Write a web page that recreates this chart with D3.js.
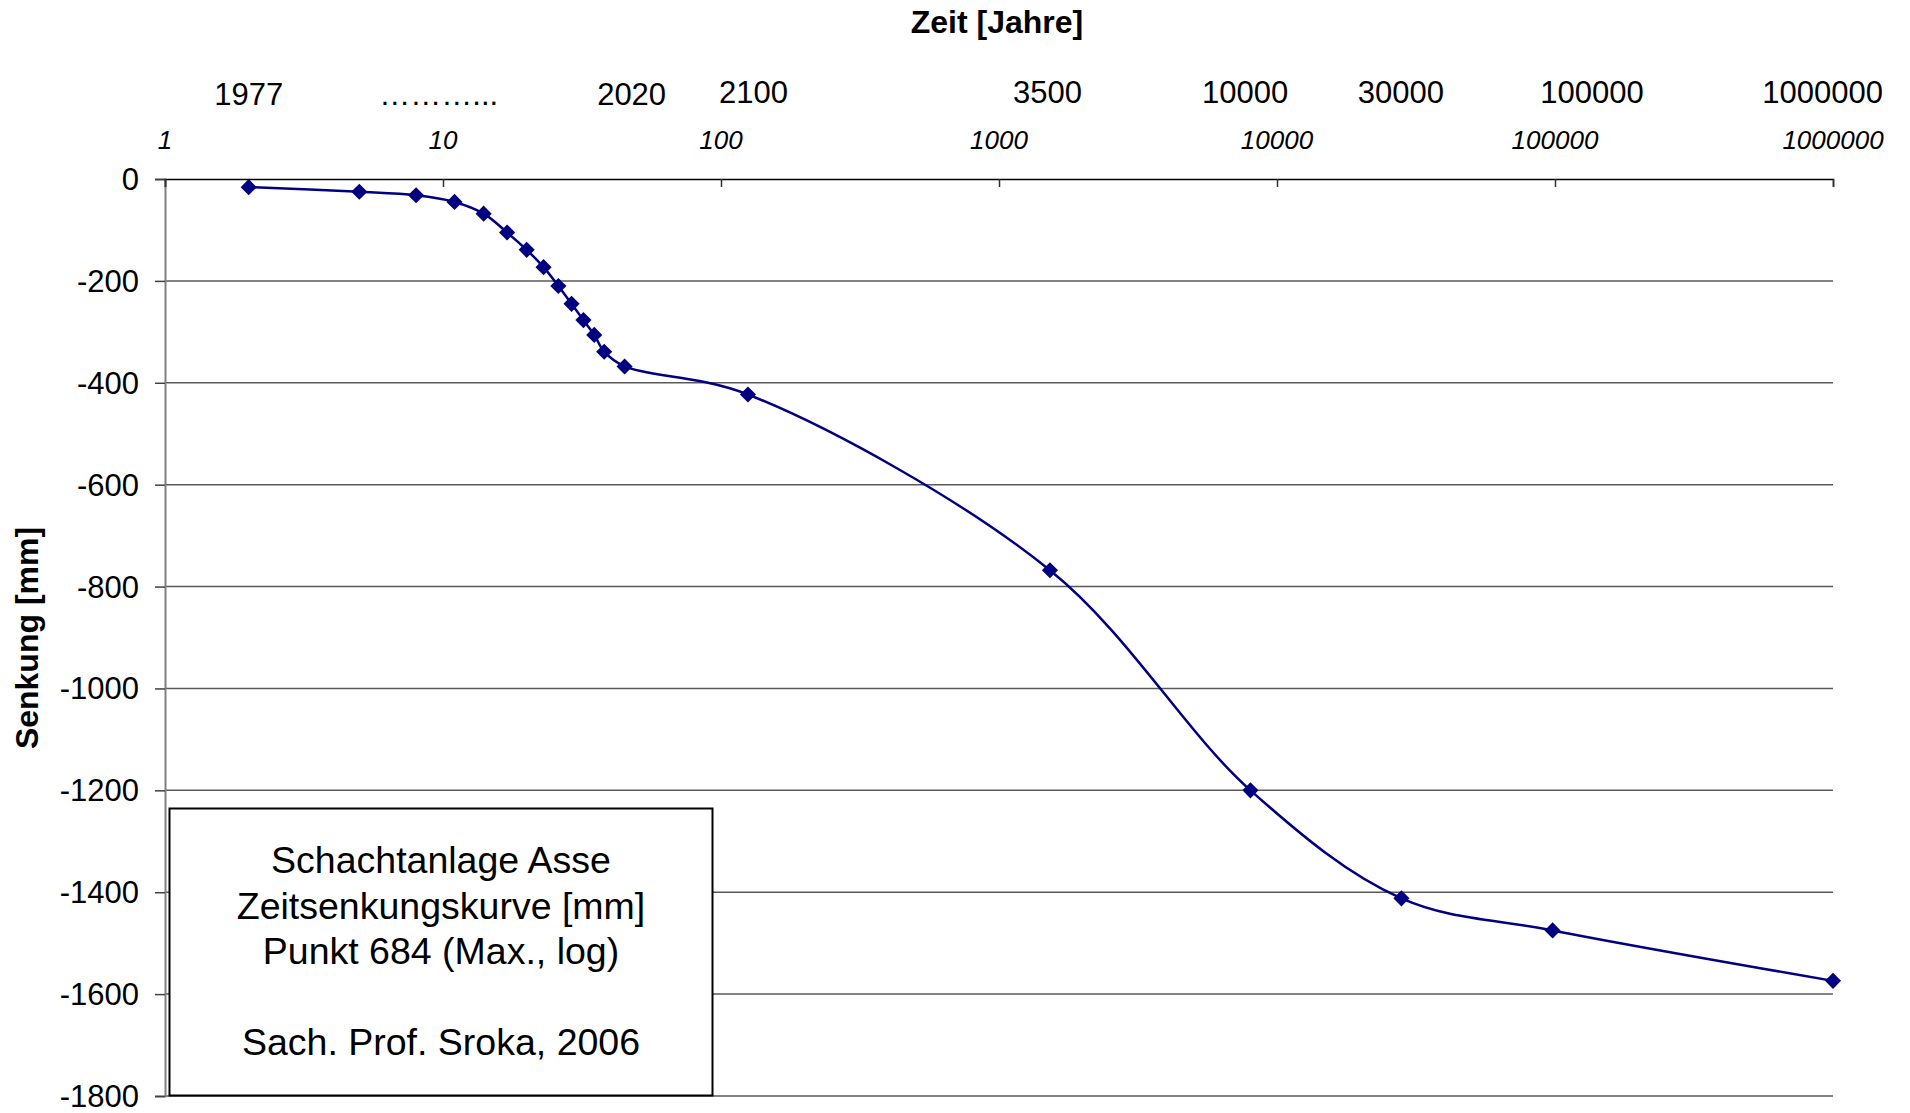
<!DOCTYPE html>
<html>
<head>
<meta charset="utf-8">
<script src="https://cdn.jsdelivr.net/npm/d3@7"></script>
<style>
    body { margin: 0; background: #fff; }
    svg { display: block; font-family: "Liberation Sans", Arial, sans-serif; }
</style>
</head>
<body>
<div id="chart"></div>
<script>
// Zeit seit Messbeginn (Jahre, log) und Senkung (mm)
const zeit = [2, 5, 8, 11, 14, 17, 20, 23, 26, 29, 32, 35, 38, 45, 125, 1525, 8025, 28025, 98025, 1000000];
const senkung = [-16, -25, -32, -45, -68, -105, -139, -173, -210, -245, -277, -306, -339, -368, -423, -768, -1200, -1412, -1475, -1574];

// Jahreszahlen oben (Text + Lage auf der Zeitachse)
const jahrLabels = ['1977', '………...', '2020', '2100', '3500', '10000', '30000', '100000', '1000000'];
const jahrLage = [2, 9.65, 47.7, 131, 1494, 7674, 27900, 135900, 918000];

const xTicks = [1, 10, 100, 1000, 10000, 100000, 1000000];
const yTicks = [0, -200, -400, -600, -800, -1000, -1200, -1400, -1600, -1800];

const infoText = ['Schachtanlage Asse', 'Zeitsenkungskurve [mm]', 'Punkt 684 (Max., log)', '', 'Sach. Prof. Sroka, 2006'];

const W = 1910, H = 1113;
const plotLeft = 165, plotRight = 1833, plotTop = 179, plotBottom = 1096;

const svg = d3.select('#chart').append('svg')
    .attr('width', W)
    .attr('height', H);

const x = d3.scaleLog().domain([1, 1000000]).range([plotLeft, plotRight]);
const y = d3.scaleLinear().domain([0, -1800]).range([plotTop, plotBottom]);

// Gitterlinien
svg.append('g')
    .selectAll('line')
    .data(yTicks.filter(d => d !== 0))
    .enter()
    .append('line')
    .attr('x1', plotLeft)
    .attr('x2', plotRight)
    .attr('y1', d => y(d))
    .attr('y2', d => y(d))
    .attr('stroke', '#5a5a5a')
    .attr('stroke-width', 1.5);

// Y-Achse
const yAxis = svg.append('g')
    .attr('transform', `translate(${plotLeft},0)`)
    .call(d3.axisLeft(y).tickValues(yTicks).tickSize(10).tickPadding(16).tickFormat(d3.format('d')));
yAxis.select('.domain').attr('stroke', '#808080').attr('stroke-width', 2);
yAxis.selectAll('.tick line').attr('stroke', '#404040').attr('stroke-width', 1.5);
yAxis.selectAll('.tick text')
    .attr('font-size', '31px')
    .attr('font-family', '"Liberation Sans", Arial, sans-serif')
    .attr('fill', '#000')
    .attr('dy', '0.34em')
    .text(d => d === 0 ? '0' : '-' + Math.abs(d));

// X-Achse oben (Linie bei 0)
const xAxis = svg.append('g')
    .attr('transform', `translate(0,${plotTop})`)
    .call(d3.axisBottom(x).tickValues(xTicks).tickSize(8).tickFormat(''));
xAxis.select('.domain').attr('stroke', '#000').attr('stroke-width', 1.5);
xAxis.selectAll('.tick line').attr('stroke', '#303030').attr('stroke-width', 1.5);

// kursive Dekaden-Beschriftung
svg.append('g')
    .selectAll('text')
    .data(xTicks)
    .enter()
    .append('text')
    .attr('x', d => x(d))
    .attr('y', 149)
    .attr('text-anchor', 'middle')
    .attr('font-size', '26px')
    .attr('font-style', 'italic')
    .text(d => d);

// Jahreszahlen
svg.append('g')
    .selectAll('text')
    .data(jahrLabels)
    .enter()
    .append('text')
    .attr('x', (d, i) => x(jahrLage[i]))
    .attr('y', (d, i) => i < 3 ? 105 : 103)
    .attr('text-anchor', 'middle')
    .attr('font-size', '31px')
    .text(d => d);

// Achsentitel
svg.append('text')
    .attr('x', 997)
    .attr('y', 33)
    .attr('text-anchor', 'middle')
    .attr('font-size', '32px')
    .attr('font-weight', 'bold')
    .text('Zeit [Jahre]');

svg.append('text')
    .attr('transform', 'translate(38,638) rotate(-90)')
    .attr('text-anchor', 'middle')
    .attr('font-size', '32px')
    .attr('font-weight', 'bold')
    .text('Senkung [mm]');

// Kurve
const punkte = zeit.map((t, i) => ({t: t, v: senkung[i]}));

const line = d3.line()
    .x(d => x(d.t))
    .y(d => y(d.v))
    .curve(d3.curveCatmullRom.alpha(0.5));

svg.append('path')
    .datum(punkte)
    .attr('fill', 'none')
    .attr('stroke', '#000080')
    .attr('stroke-width', 2.5)
    .attr('d', line);

svg.selectAll('.punkt')
    .data(punkte)
    .enter()
    .append('path')
    .attr('class', 'punkt')
    .attr('d', d3.symbol(d3.symbolSquare, 130))
    .attr('transform', d => `translate(${x(d.t)},${y(d.v)}) rotate(45)`)
    .attr('fill', '#000080');

// Textfeld
const box = svg.append('g');
box.append('rect')
    .attr('x', 169.5)
    .attr('y', 808.5)
    .attr('width', 543)
    .attr('height', 287)
    .attr('fill', '#fff')
    .attr('stroke', '#000')
    .attr('stroke-width', 2);

box.selectAll('text')
    .data(infoText)
    .enter()
    .append('text')
    .attr('x', 441)
    .attr('y', (d, i) => 873 + i * 45.5)
    .attr('text-anchor', 'middle')
    .attr('font-size', '37.5px')
    .text(d => d);
</script>
</body>
</html>
